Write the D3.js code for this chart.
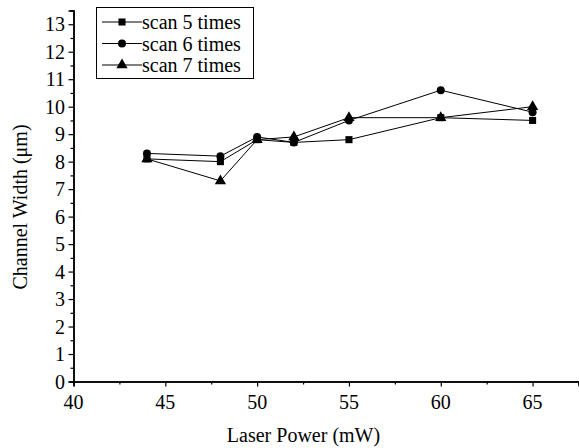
<!DOCTYPE html>
<html>
<head>
<meta charset="utf-8">
<script src="https://cdn.jsdelivr.net/npm/d3@7"></script>
<style>
  html, body { margin: 0; background: #fff; font-family: "Times New Roman", "Liberation Serif", serif !important; }
  .wrap { position: relative; width: 579px; height: 448px; }
  .wrap svg { position: absolute; left: 0; top: 0; }
  .lbl {
    position: absolute; left: 0; top: 0; color: #000;
    white-space: nowrap; transform-origin: 0 0;
  }
</style>
</head>
<body>
<div class="wrap"><svg class="power-chart"></svg></div>
<script>
var power = [44, 48, 50, 52, 55, 60, 65];
var scan5 = [8.1, 8.0, 8.8, 8.7, 8.8, 9.6, 9.5];
var scan6 = [8.3, 8.2, 8.9, 8.7, 9.5, 10.6, 9.8];
var scan7 = [8.1, 7.3, 8.8, 8.9, 9.6, 9.6, 10.0];
var seriesNames = ["scan 5 times", "scan 6 times", "scan 7 times"];
var xTicks = [40, 45, 50, 55, 60, 65];
var yTicks = d3.range(0, 14);

var series = [
  {name: seriesNames[0], values: scan5, symbol: d3.symbolSquare},
  {name: seriesNames[1], values: scan6, symbol: d3.symbolCircle},
  {name: seriesNames[2], values: scan7, symbol: d3.symbolTriangle}
];

var width = 579, height = 448;
var wrap = d3.select(".wrap");
var svg = d3.select(".power-chart").attr("width", width).attr("height", height);

var x = d3.scaleLinear().domain([40, 67.5]).range([73.5, 578.5]);
var y = d3.scaleLinear().domain([0, 13.5]).range([381.5, 10.5]);

// text as html divs
var BASE = 16.75;
function label(px, py, txt, anchor, rot) {
  var dx = anchor === "middle" ? "-50%" : anchor === "end" ? "-100%" : "0";
  return wrap.append("div").attr("class", "lbl")
    .attr("style", "font-family:'Times New Roman','Liberation Serif',serif !important; font-size:20px; line-height:20px; transform:translate(" + px + "px," + py + "px)" +
      (rot ? " rotate(" + rot + "deg)" : "") +
      " translate(" + dx + ",-" + BASE + "px)")
    .text(txt);
}

// minor ticks
var xMinor = d3.axisBottom(x).tickValues(d3.range(42.5, 67.6, 5)).tickSize(3).tickFormat("");
var yMinor = d3.axisLeft(y).tickValues(d3.range(0.5, 13.6, 1)).tickSize(3).tickFormat("");
var xAxis = d3.axisBottom(x).tickValues(xTicks).tickSize(5).tickFormat("");
var yAxis = d3.axisLeft(y).tickValues(yTicks).tickSize(5).tickFormat("");

svg.append("g").attr("transform", "translate(0,381.5)").call(xMinor);
svg.append("g").attr("transform", "translate(73.5,0)").call(yMinor);
svg.append("g").attr("transform", "translate(0,381.5)").call(xAxis);
svg.append("g").attr("transform", "translate(73.5,0)").call(yAxis);

svg.selectAll(".domain").attr("stroke", "#000").attr("stroke-width", 1.5);
svg.selectAll(".tick line").attr("stroke", "#000").attr("stroke-width", 1.2);

xTicks.forEach(function(d) { label(x(d), 409, d, "middle"); });
yTicks.forEach(function(d) { label(65, y(d) + 7, d, "end"); });

label(303.5, 441.5, "Laser Power (mW)", "middle");
label(26.5, 207, "Channel Width (μm)", "middle", -90);

var line = d3.line()
  .x(function(d, i) { return x(power[i]); })
  .y(function(d) { return y(d); });

series.forEach(function(s) {
  svg.append("path")
    .datum(s.values)
    .attr("d", line)
    .attr("fill", "none")
    .attr("stroke", "#000")
    .attr("stroke-width", 1);
});

series.forEach(function(s) {
  svg.selectAll(null)
    .data(s.values)
    .enter().append("path")
    .attr("d", d3.symbol().type(s.symbol).size(s.symbol === d3.symbolTriangle ? 55 : 50))
    .attr("transform", function(d, i) { return "translate(" + x(power[i]) + "," + y(d) + ")"; })
    .attr("fill", "#000");
});

// legend
var legend = svg.append("g");
legend.append("rect")
  .attr("x", 96.5).attr("y", 7.5).attr("width", 157).attr("height", 71)
  .attr("fill", "#fff").attr("stroke", "#000").attr("stroke-width", 1);

series.forEach(function(s, i) {
  var cy = 22 + i * 21.5;
  legend.append("line")
    .attr("x1", 102).attr("x2", 142).attr("y1", cy).attr("y2", cy)
    .attr("stroke", "#000").attr("stroke-width", 1);
  legend.append("path")
    .attr("d", d3.symbol().type(s.symbol).size(s.symbol === d3.symbolTriangle ? 55 : 50))
    .attr("transform", "translate(122," + cy + ")")
    .attr("fill", "#000");
  label(142, cy + 7, s.name, "start");
});
</script>
</body>
</html>
